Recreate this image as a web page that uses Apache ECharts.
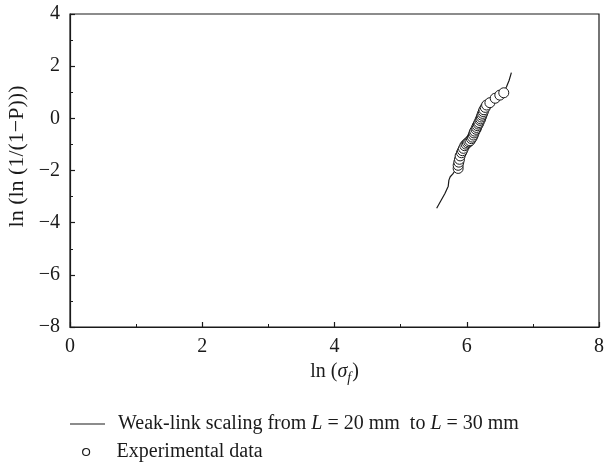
<!DOCTYPE html>
<html>
<head>
<meta charset="utf-8">
<script src="https://cdn.jsdelivr.net/npm/echarts@6/dist/echarts.min.js"></script>
<style>
  html, body { margin: 0; padding: 0; background: #fff; }
  #main { width: 604px; height: 465px; }
</style>
</head>
<body>
<div id="main"></div>
<script>
// weak-link scaling curve
const fitX = [5.545, 5.67, 5.72, 5.73, 5.75, 5.79, 5.83, 5.9, 5.98, 6.06, 6.14, 6.22, 6.3, 6.38, 6.46, 6.54, 6.6, 6.64, 6.675]
const fitY = [-3.45, -2.88, -2.6, -2.37, -2.24, -2.13, -1.98, -1.6, -1.2, -0.85, -0.5, -0.1, 0.25, 0.55, 0.8, 0.98, 1.2, 1.45, 1.75]

// experimental points
const expX = [5.87, 5.87, 5.88, 5.89, 5.90, 5.92, 5.935, 5.95, 5.97, 5.99, 6.01, 6.03, 6.05, 6.07, 6.085, 6.10, 6.11, 6.12,
  6.14, 6.15, 6.16, 6.175, 6.185, 6.20, 6.21, 6.22, 6.23, 6.24, 6.25, 6.26, 6.28, 6.30, 6.35, 6.43, 6.50, 6.56]
const expY = [-1.92, -1.8, -1.68, -1.57, -1.44, -1.32, -1.24, -1.15, -1.05, -0.99, -0.94, -0.9, -0.86, -0.78, -0.72, -0.64, -0.56, -0.49,
  -0.42, -0.35, -0.28, -0.22, -0.16, -0.08, -0.02, 0.05, 0.12, 0.19, 0.26, 0.33, 0.42, 0.51, 0.60, 0.77, 0.89, 0.98]

const xTicks = { min: 0, max: 8, step: 2 }
const yTicks = { min: -8, max: 4, step: 2 }

const font = 'Liberation Serif'
const fs = 20
const ink = '#1a1a1a'

function minus(v) {
  return v < 0 ? '\u2212' + Math.abs(v) : String(v)
}

const chart = echarts.init(document.getElementById('main'))

const axisCommon = {
  axisLine: { onZero: false, lineStyle: { color: ink, width: 1.2 } },
  axisTick: { inside: true, length: 5, lineStyle: { color: ink, width: 1.2 } },
  minorTick: { show: true, splitNumber: 2, length: 3, lineStyle: { color: ink, width: 1 } },
  splitLine: { show: false },
  axisLabel: { fontFamily: font, fontSize: fs, color: ink, formatter: minus },
  nameTextStyle: { fontFamily: font, fontSize: fs, color: ink }
}

chart.setOption({
  animation: false,
  backgroundColor: '#fff',
  grid: {
    left: 70, right: 5, top: 14, bottom: 138,
    outerBoundsMode: 'none', containLabel: false,
    show: true, borderColor: ink, borderWidth: 1.2, backgroundColor: 'transparent'
  },
  xAxis: Object.assign({}, axisCommon, {
    type: 'value',
    min: xTicks.min, max: xTicks.max, interval: xTicks.step,
    name: '{a|ln (}{s|σ}{f|f}{a|)}',
    nameLocation: 'middle',
    nameGap: 29,
    nameTextStyle: {
      fontFamily: font, fontSize: fs, color: ink,
      rich: {
        a: { fontFamily: font, fontSize: fs, color: ink },
        s: { fontFamily: font, fontSize: fs, color: ink, fontStyle: 'italic' },
        f: { fontFamily: font, fontSize: 14, color: ink, fontStyle: 'italic', padding: [12, 1, 0, 0] }
      }
    },
    axisLabel: Object.assign({}, axisCommon.axisLabel, { margin: 10 })
  }),
  yAxis: Object.assign({}, axisCommon, {
    type: 'value',
    min: yTicks.min, max: yTicks.max, interval: yTicks.step,
    name: 'ln (ln (1/(1\u2212P)))',
    nameLocation: 'middle',
    nameGap: 41,
    nameTextStyle: { fontFamily: font, fontSize: 22, color: ink, padding: [0, 0, 0, 28] },
    axisLabel: Object.assign({}, axisCommon.axisLabel, { margin: 10 })
  }),
  legend: [
    {
      orient: 'vertical', left: 70, top: 414, padding: 0,
      itemWidth: 35, itemHeight: 1.2,
      icon: 'rect',
      data: [{ name: 'fit', itemStyle: { color: ink, borderWidth: 0 } }],
      formatter: () => '{n|Weak-link scaling from }{i|L}{n| = 20 mm  to }{i|L}{n| = 30 mm}',
      textStyle: {
        fontFamily: font, fontSize: fs, color: ink, padding: [0, 0, 0, 8],
        rich: {
          n: { fontFamily: font, fontSize: fs, color: ink },
          i: { fontFamily: font, fontSize: fs, color: ink, fontStyle: 'italic' }
        }
      },
      selectedMode: false
    },
    {
      orient: 'vertical', left: 82, top: 442, padding: 0,
      itemWidth: 35, itemHeight: 7,
      icon: 'circle',
      data: [{ name: 'Experimental data', itemStyle: { color: '#fff', borderColor: ink, borderWidth: 1.2 } }],
      textStyle: { fontFamily: font, fontSize: fs, color: ink, padding: [0, 0, 0, 8] },
      selectedMode: false
    }
  ],
  series: [
    {
      name: 'fit',
      type: 'line',
      data: fitX.map((x, i) => [x, fitY[i]]),
      showSymbol: false,
      lineStyle: { color: ink, width: 1.2 },
      z: 2
    },
    {
      name: 'Experimental data',
      type: 'scatter',
      data: expX.map((x, i) => [x, expY[i]]),
      symbol: 'circle',
      symbolSize: 10,
      itemStyle: { color: '#fff', borderColor: ink, borderWidth: 1, opacity: 1 },
      z: 3
    }
  ]
})
</script>
</body>
</html>
